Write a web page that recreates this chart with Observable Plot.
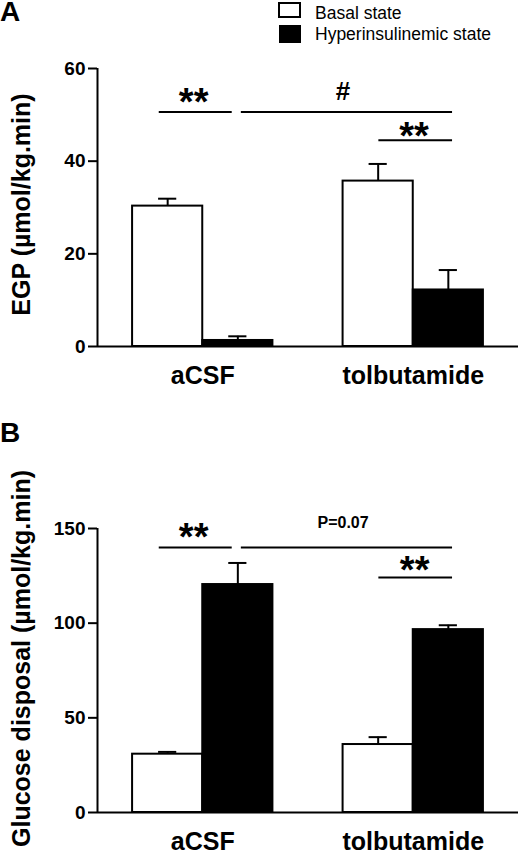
<!DOCTYPE html>
<html>
<head>
<meta charset="utf-8">
<script src="https://cdn.jsdelivr.net/npm/d3@7"></script>
<script src="https://cdn.jsdelivr.net/npm/@observablehq/plot@0.6"></script>
<style>
  body { margin: 0; background: white; font-family: "Liberation Sans", Arial, sans-serif; }
  #wrap { position: relative; width: 520px; height: 853px; }
  .sq { position: absolute; box-sizing: border-box; border: 2px solid black; }
  .lg { position: absolute; left: 315px; font-size: 17.5px; line-height: 1; white-space: nowrap; }
</style>
</head>
<body>
<div id="wrap">
  <div id="chart_a"></div>
  <div id="chart_b"></div>
  <div class="sq" style="left:278px;top:2px;width:23px;height:16px;background:white"></div>
  <div class="sq" style="left:279px;top:25px;width:22px;height:18px;background:black"></div>
  <div class="lg" id="lg0" style="top:5px"></div>
  <div class="lg" id="lg1" style="top:26px"></div>
</div>
<script>
// groupes et états
const groups = ["aCSF", "tolbutamide"]
const states = ["Basal state", "Hyperinsulinemic state"]

// panneau A : EGP (moyenne, erreur type)
const egpBasal = [30.3, 35.7]
const egpBasalSem = [1.6, 3.7]
const egpHyper = [1.3, 12.2]
const egpHyperSem = [0.9, 4.3]
const egpTicks = [0, 20, 40, 60]

// panneau B : glucose disposal
const gdBasal = [30.8, 35.9]
const gdBasalSem = [1.2, 3.9]
const gdHyper = [120.4, 96.6]
const gdHyperSem = [11.4, 2.3]
const gdTicks = [0, 50, 100, 150]

// barres de significativité (x en unités de position, y en unités de données)
const sigLinesA = [{x1: 0.88, x2: 1.92, y: 50.6}, {x1: 2.05, x2: 5.06, y: 50.6}, {x1: 4.01, x2: 5.06, y: 44.5}]
const sigTextA = [{x: 1.37, y: 54.2, label: "**"}, {x: 3.5, y: 54.9, label: "#"}, {x: 4.51, y: 46.8, label: "**"}]
const sigLinesB = [{x1: 0.88, x2: 1.92, y: 139.9}, {x1: 2.05, x2: 5.06, y: 139.9}, {x1: 4.01, x2: 5.06, y: 124.1}]
const sigTextB = [{x: 1.37, y: 148.7, label: "**"}, {x: 3.5, y: 152.9, label: "P=0.07"}, {x: 4.52, y: 131.1, label: "**"}]

document.getElementById("lg0").textContent = states[0]
document.getElementById("lg1").textContent = states[1]

function rows(basal, basalSem, hyper, hyperSem) {
  return groups.flatMap((g, gi) => states.map((s, si) => {
    const mean = si ? hyper[gi] : basal[gi]
    const sem = si ? hyperSem[gi] : basalSem[gi]
    const pos = gi * 3 + si + 0.5
    return {group: g, state: s, x1: pos, x2: pos + 1, xc: pos + 0.5, mean, hi: mean + sem}
  }))
}

function panel({data, ticks, letter, ylabel, lines, texts, otherSize, height, marginTop, marginBottom, letterDy, titleDy}) {
  const top = ticks[ticks.length - 1]
  const chart = Plot.plot({
    width: 520,
    height,
    marginLeft: 97,
    marginRight: 2,
    marginTop,
    marginBottom,
    style: {fontFamily: "'Liberation Sans', Arial, sans-serif", fontSize: "19px", fontWeight: "bold", color: "black"},
    x: {domain: [0, 6]},
    y: {domain: [0, top]},
    color: {domain: states, range: ["white", "black"]},
    marks: [
      Plot.rectY(data, {x1: "x1", x2: "x2", y1: 0, y2: "mean", fill: "state", stroke: "black", strokeWidth: 2}),
      Plot.ruleX(data, {x: "xc", y1: "mean", y2: "hi", stroke: "black", strokeWidth: 2}),
      Plot.ruleY(data, {x1: "x1", x2: "x2", y: "hi", insetLeft: 26, insetRight: 26, stroke: "black", strokeWidth: 2}),
      Plot.ruleY([0], {stroke: "black", strokeWidth: 2}),
      Plot.ruleX([0], {y1: 0, y2: top, stroke: "black", strokeWidth: 2}),
      Plot.axisY({ticks, tickSize: 9, tickPadding: 3, strokeWidth: 2, label: null, tickFormat: d => d}),
      Plot.axisX({ticks: [1.5, 4.5], tickSize: 0, tickPadding: 20, fontSize: 25, label: null, tickFormat: d => groups[Math.round((d - 1.5) / 3)]}),
      Plot.ruleY(lines, {x1: "x1", x2: "x2", y: "y", stroke: "black", strokeWidth: 2}),
      Plot.text(texts.filter(d => d.label === "**"), {x: "x", y: "y", text: "label", fontSize: 38, dy: 7}),
      Plot.text(texts.filter(d => d.label !== "**"), {x: "x", y: "y", text: "label", fontSize: otherSize}),
      Plot.text([ylabel], {frameAnchor: "left", rotate: -90, textAnchor: "middle", lineAnchor: "middle", dx: -75.5, dy: titleDy, fontSize: 25}),
      Plot.text([letter], {frameAnchor: "top-left", textAnchor: "middle", lineAnchor: "middle", dx: -87.5, dy: letterDy, fontSize: 28})
    ]
  })
  return chart
}

const chartA = panel({
  data: rows(egpBasal, egpBasalSem, egpHyper, egpHyperSem),
  ticks: egpTicks, letter: "A", ylabel: "EGP (µmol/kg.min)",
  lines: sigLinesA, texts: sigTextA, otherSize: 26,
  height: 420, marginTop: 68, marginBottom: 74, letterDy: -56, titleDy: -3
})
const chartB = panel({
  data: rows(gdBasal, gdBasalSem, gdHyper, gdHyperSem),
  ticks: gdTicks, letter: "B", ylabel: "Glucose disposal (µmol/kg.min)",
  lines: sigLinesB, texts: sigTextB, otherSize: 16,
  height: 433, marginTop: 108, marginBottom: 41, letterDy: -95.5, titleDy: -12
})
d3.select("#chart_a").append(() => chartA)
d3.select("#chart_b").append(() => chartB)
</script>
</body>
</html>
